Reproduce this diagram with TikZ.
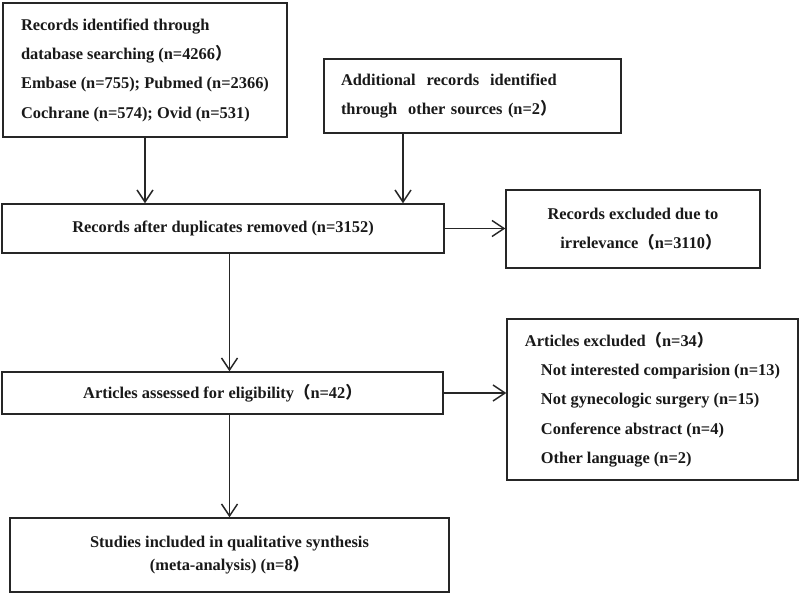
\documentclass[tikz,border=0pt]{standalone}
\usepackage{fontspec}
\setmainfont{Liberation Serif}
\newfontfamily\cjkfont{Noto Sans CJK SC}
\newcommand\lpar{{\cjkfont （}}
\newcommand\rpar{{\cjkfont ）}}
\usetikzlibrary{arrows.meta}
\tikzset{
  box/.style={draw=black!85, line width=1.1pt, inner sep=0pt, fill=white, text=black!90,
    font=\fontsize{12.3pt}{22pt}\selectfont\bfseries},
  arr/.style={draw=black!85, line width=1.1pt, -{Straight Barb[length=9pt,width=12pt]}}
}
\begin{document}
\begin{tikzpicture}[x=0.75pt,y=-0.75pt]
\useasboundingbox (0,0) rectangle (800,595);
\node[box, minimum width=213pt, minimum height=100.5pt, align=left] (b1) at (145,70)
  {Records identified through\\database searching (n=4266\rpar\\Embase (n=755); Pubmed (n=2366)\\Cochrane (n=574); Ovid (n=531)};
\node[box, minimum width=222.75pt, minimum height=55.5pt, inner xsep=12.75pt, text width=197.25pt, align=left] (b2) at (472.5,96)
  {Additional\ \ records\ \ identified\\through\ \ other sources (n=2\rpar};
\node[box, minimum width=331.5pt, minimum height=36.75pt] (b3) at (223,228.5)
  {Records after duplicates removed (n=3152)};
\node[box, minimum width=190.5pt, minimum height=58.5pt, align=center] (b4) at (633,229)
  {Records excluded due to\\\hspace*{12pt}irrelevance\lpar n=3110\rpar};
\node[box, minimum width=330.75pt, minimum height=31.5pt] (b5) at (222.5,393)
  {Articles assessed for eligibility\lpar n=42\rpar};
\node[box, minimum width=218.25pt, minimum height=120.75pt, align=left] (b6) at (652.5,399.5)
  {Articles excluded\lpar n=34\rpar\\
   \hspace*{12pt}Not interested comparision (n=13)\\
   \hspace*{12pt}Not gynecologic surgery (n=15)\\
   \hspace*{12pt}Conference abstract (n=4)\\
   \hspace*{12pt}Other language (n=2)};
\node[box, minimum width=329.25pt, minimum height=55.5pt, align=center,
  font=\fontsize{12.3pt}{17.25pt}\selectfont\bfseries] (b7) at (229.5,555)
  {Studies included in qualitative synthesis\\(meta-analysis) (n=8\rpar};
\draw[arr] (b1.south) -- (b1.south |- b3.north);
\draw[arr] ([xshift=-52.125pt]b2.south) -- ([xshift=-52.125pt]b2.south |- b3.north);
\draw[arr] (b3.east) -- (b3.east -| b4.west);
\draw[arr] (b7.north |- b3.south) -- (b7.north |- b5.north);
\draw[arr] (b5.east) -- (b5.east -| b6.west);
\draw[arr] (b7.north |- b5.south) -- (b7.north);
\end{tikzpicture}
\end{document}
